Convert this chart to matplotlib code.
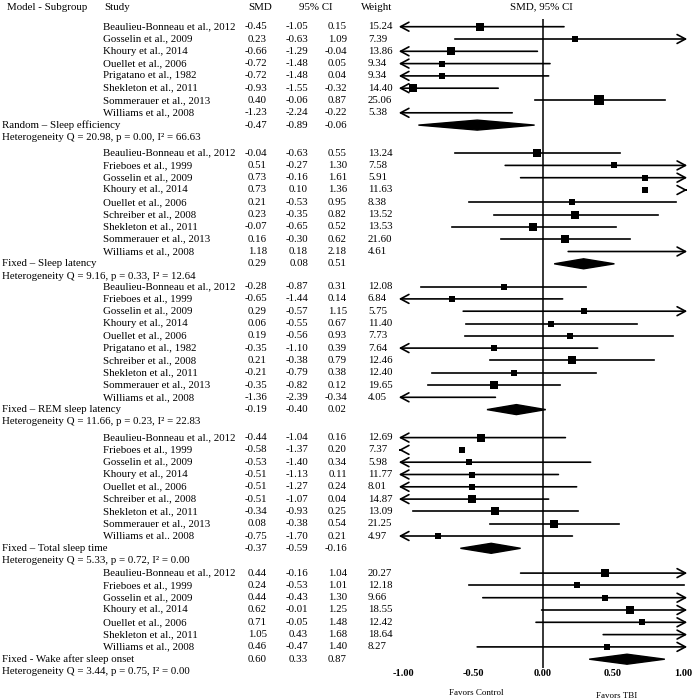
import matplotlib.pyplot as plt

plt.rcParams["font.family"] = ["Liberation Serif", "DejaVu Serif"]

# Data entry (one list per subgroup)
subgroups = [
    "Random \u2013 Sleep efficiency",
    "Fixed \u2013 Sleep latency",
    "Fixed \u2013 REM sleep latency",
    "Fixed \u2013 Total sleep time",
    "Fixed - Wake after sleep onset",
]
heterogeneity = [
    "Heterogeneity Q = 20.98, p = 0.00, I\u00b2 = 66.63",
    "Heterogeneity Q = 9.16, p = 0.33, I\u00b2 = 12.64",
    "Heterogeneity Q = 11.66, p = 0.23, I\u00b2 = 22.83",
    "Heterogeneity Q = 5.33, p = 0.72, I\u00b2 = 0.00",
    "Heterogeneity Q = 3.44, p = 0.75, I\u00b2 = 0.00",
]

studies = [
    ["Beaulieu-Bonneau et al., 2012", "Gosselin et al., 2009", "Khoury et al., 2014",
     "Ouellet et al., 2006", "Prigatano et al., 1982", "Shekleton et al., 2011",
     "Sommerauer et al., 2013", "Williams et al., 2008"],
    ["Beaulieu-Bonneau et al., 2012", "Frieboes et al., 1999", "Gosselin et al., 2009",
     "Khoury et al., 2014", "Ouellet et al., 2006", "Schreiber et al., 2008",
     "Shekleton et al., 2011", "Sommerauer et al., 2013", "Williams et al., 2008"],
    ["Beaulieu-Bonneau et al., 2012", "Frieboes et al., 1999", "Gosselin et al., 2009",
     "Khoury et al., 2014", "Ouellet et al., 2006", "Prigatano et al., 1982",
     "Schreiber et al., 2008", "Shekleton et al., 2011", "Sommerauer et al., 2013",
     "Williams et al., 2008"],
    ["Beaulieu-Bonneau et al., 2012", "Frieboes et al., 1999", "Gosselin et al., 2009",
     "Khoury et al., 2014", "Ouellet et al., 2006", "Schreiber et al., 2008",
     "Shekleton et al., 2011", "Sommerauer et al., 2013", "Williams et al.. 2008"],
    ["Beaulieu-Bonneau et al., 2012", "Frieboes et al., 1999", "Gosselin et al., 2009",
     "Khoury et al., 2014", "Ouellet et al., 2006", "Shekleton et al., 2011",
     "Williams et al., 2008"],
]
smd = [
    [-0.45, 0.23, -0.66, -0.72, -0.72, -0.93, 0.40, -1.23],
    [-0.04, 0.51, 0.73, 0.73, 0.21, 0.23, -0.07, 0.16, 1.18],
    [-0.28, -0.65, 0.29, 0.06, 0.19, -0.35, 0.21, -0.21, -0.35, -1.36],
    [-0.44, -0.58, -0.53, -0.51, -0.51, -0.51, -0.34, 0.08, -0.75],
    [0.44, 0.24, 0.44, 0.62, 0.71, 1.05, 0.46],
]
ci_low = [
    [-1.05, -0.63, -1.29, -1.48, -1.48, -1.55, -0.06, -2.24],
    [-0.63, -0.27, -0.16, 0.10, -0.53, -0.35, -0.65, -0.30, 0.18],
    [-0.87, -1.44, -0.57, -0.55, -0.56, -1.10, -0.38, -0.79, -0.82, -2.39],
    [-1.04, -1.37, -1.40, -1.13, -1.27, -1.07, -0.93, -0.38, -1.70],
    [-0.16, -0.53, -0.43, -0.01, -0.05, 0.43, -0.47],
]
ci_high = [
    [0.15, 1.09, -0.04, 0.05, 0.04, -0.32, 0.87, -0.22],
    [0.55, 1.30, 1.61, 1.36, 0.95, 0.82, 0.52, 0.62, 2.18],
    [0.31, 0.14, 1.15, 0.67, 0.93, 0.39, 0.79, 0.38, 0.12, -0.34],
    [0.16, 0.20, 0.34, 0.11, 0.24, 0.04, 0.25, 0.54, 0.21],
    [1.04, 1.01, 1.30, 1.25, 1.48, 1.68, 1.40],
]
weights = [
    [15.24, 7.39, 13.86, 9.34, 9.34, 14.40, 25.06, 5.38],
    [13.24, 7.58, 5.91, 11.63, 8.38, 13.52, 13.53, 21.60, 4.61],
    [12.08, 6.84, 5.75, 11.40, 7.73, 7.64, 12.46, 12.40, 19.65, 4.05],
    [12.69, 7.37, 5.98, 11.77, 8.01, 14.87, 13.09, 21.25, 4.97],
    [20.27, 12.18, 9.66, 18.55, 12.42, 18.64, 8.27],
]
pooled_smd = [-0.47, 0.29, -0.19, -0.37, 0.60]
pooled_low = [-0.89, 0.08, -0.40, -0.59, 0.33]
pooled_high = [-0.06, 0.51, 0.02, -0.16, 0.87]

# rows where the original drew only the arrow head, not the whisker
no_whisker = [(1, 3), (3, 1)]

# Layout (pixel-like units, figure is 700 x 700)
row_step = 12.3
block_gap = [15.7, 10.5, 15.7, 12.5]
x_lim = 1.03

fig = plt.figure(figsize=(7, 7), dpi=100)
tx = fig.add_axes([0, 0, 1, 1])
tx.set_xlim(0, 700)
tx.set_ylim(700, 0)
tx.axis("off")

fp = fig.add_axes([396 / 700, (700 - 668) / 700, 294 / 700, (668 - 19) / 700])
fp.set_xlim(-1.05, 1.05)
fp.set_ylim(668, 19)
for s in fp.spines.values():
    s.set_visible(False)
fp.set_yticks([])
fp.set_xticks([-1, -0.5, 0, 0.5, 1])
fp.set_xticklabels(["-1.00", "-0.50", "0.00", "0.50", "1.00"], fontweight="bold", fontsize=7.5)
fp.tick_params(axis="x", length=0, pad=1)
fp.axvline(0, color="black", lw=1.1)

fs = 7.8
# Header
tx.text(7, 7, "Model - Subgroup", fontsize=fs, va="center")
tx.text(104, 7, "Study", fontsize=fs, va="center")
tx.text(260, 7, "SMD", fontsize=fs, va="center", ha="center")
tx.text(316, 7, "95% CI", fontsize=fs, va="center", ha="center")
tx.text(377, 7, "Weight", fontsize=fs, va="center", ha="center")
tx.text(541, 7, "SMD, 95% CI", fontsize=fs, va="center", ha="center")

arrow_kw = dict(arrowstyle="->, head_length=0.6, head_width=0.32", lw=1.2,
                color="black", shrinkA=0, shrinkB=0)

y = 26.7
for b in range(len(subgroups)):
    for i, name in enumerate(studies[b]):
        m, lo, hi, w = smd[b][i], ci_low[b][i], ci_high[b][i], weights[b][i]
        tx.text(103, y, name, fontsize=fs, va="center")
        tx.text(267, y, f"{m:.2f}", fontsize=fs, va="center", ha="right")
        tx.text(308, y, f"{lo:.2f}", fontsize=fs, va="center", ha="right")
        tx.text(347, y, f"{hi:.2f}", fontsize=fs, va="center", ha="right")
        tx.text(368, y, f"{w:.2f}", fontsize=fs, va="center", ha="left")

        a = max(lo, -x_lim)
        c = min(hi, x_lim)
        if (b, i) in no_whisker:
            if hi > x_lim:
                fp.annotate("", xy=(x_lim, y), xytext=(x_lim - 0.01, y), arrowprops=arrow_kw)
            if lo < -x_lim:
                fp.annotate("", xy=(-x_lim, y), xytext=(-x_lim + 0.01, y), arrowprops=arrow_kw)
        else:
            if lo < -x_lim:
                fp.annotate("", xy=(-x_lim, y), xytext=(c, y), arrowprops=arrow_kw)
            elif hi > x_lim:
                fp.annotate("", xy=(x_lim, y), xytext=(a, y), arrowprops=arrow_kw)
            else:
                fp.plot([a, c], [y, y], color="black", lw=1.2)
        if -1 <= m <= 1:
            fp.scatter([m], [y], marker="s", s=8 + 1.4 * w, color="black",
                       linewidths=0, zorder=3)
        y += row_step

    # pooled estimate row
    tx.text(2, y, subgroups[b], fontsize=fs, va="center")
    tx.text(267, y, f"{pooled_smd[b]:.2f}", fontsize=fs, va="center", ha="right")
    tx.text(308, y, f"{pooled_low[b]:.2f}", fontsize=fs, va="center", ha="right")
    tx.text(347, y, f"{pooled_high[b]:.2f}", fontsize=fs, va="center", ha="right")
    h = 5
    fp.fill([pooled_low[b], pooled_smd[b], pooled_high[b], pooled_smd[b]],
            [y, y - h, y, y + h], color="black", zorder=3)
    y += row_step
    tx.text(2, y, heterogeneity[b], fontsize=fs, va="center")
    if b < len(block_gap):
        y += block_gap[b]

tx.text(476, 693, "Favors Control", fontsize=6.5, va="center", ha="center")
tx.text(617, 696, "Favors TBI", fontsize=6.5, va="center", ha="center")

fig.savefig("out.png", dpi=100)
